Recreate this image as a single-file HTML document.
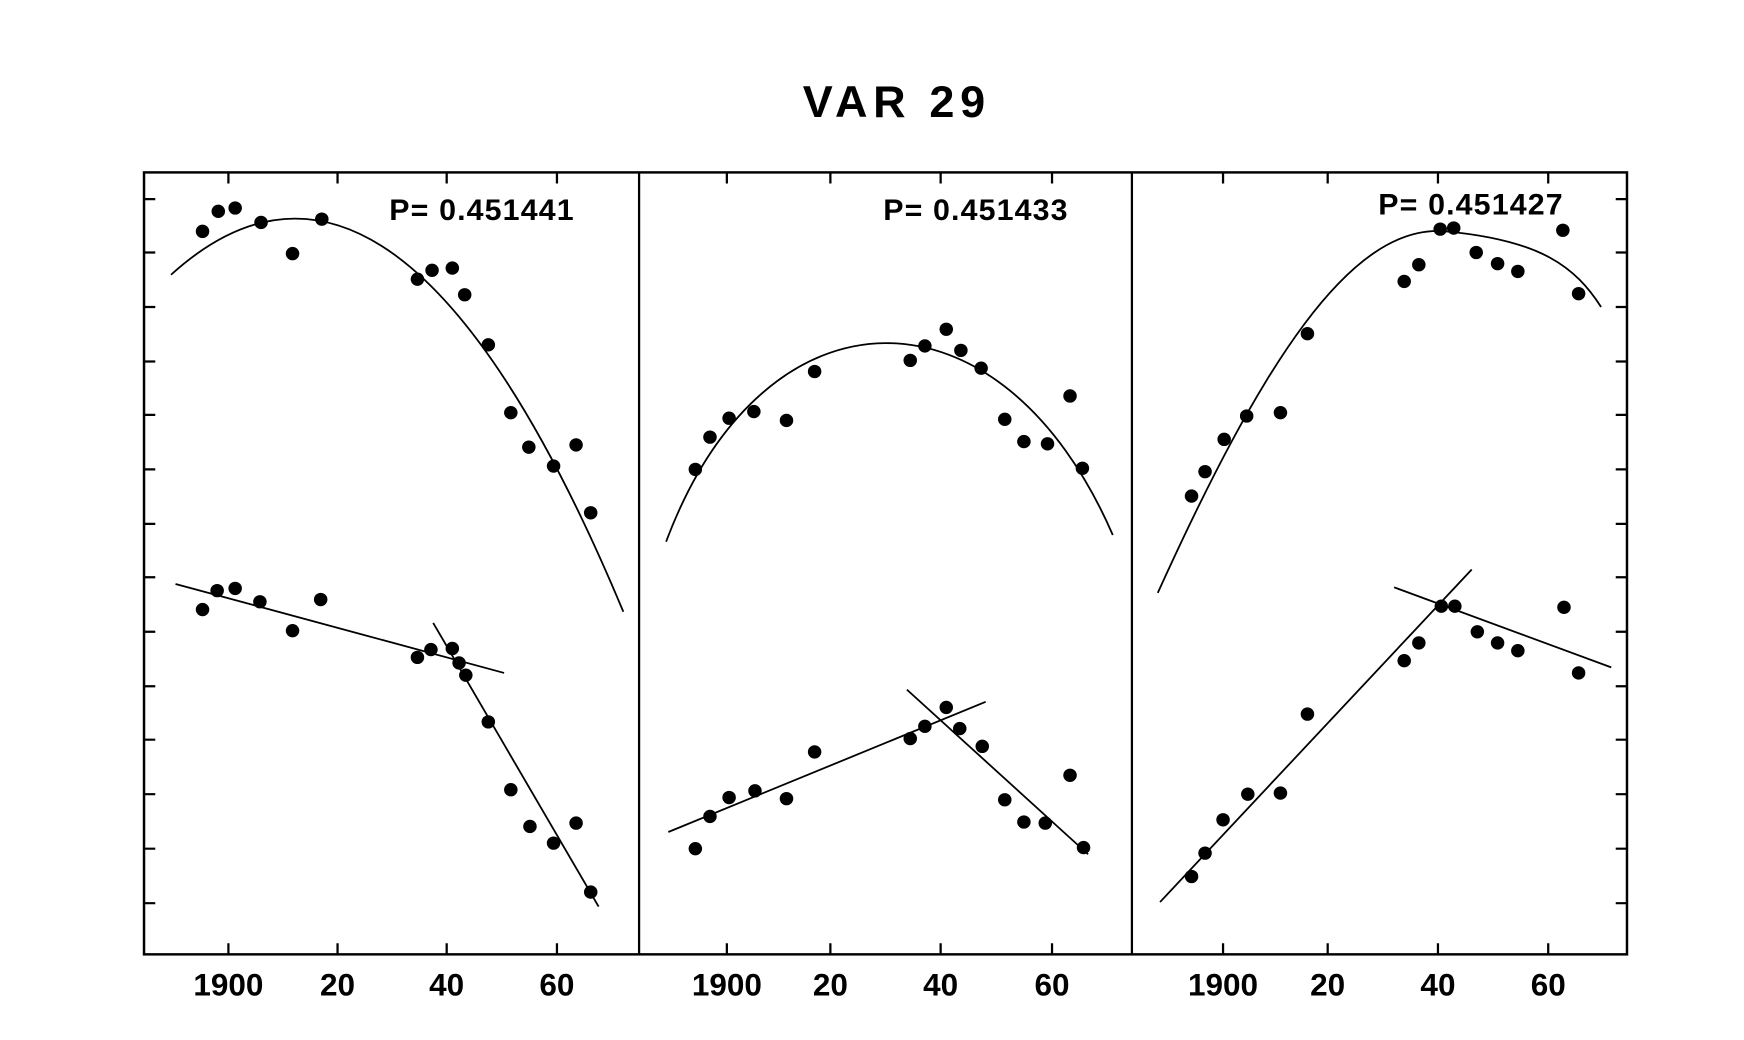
<!DOCTYPE html>
<html><head><meta charset="utf-8"><style>
html,body{margin:0;padding:0;background:#fff;}
svg{display:block;}
text{font-family:"Liberation Sans",sans-serif;font-weight:bold;fill:#000;}
</style></head><body>
<svg width="1744" height="1040" viewBox="0 0 1550 935" preserveAspectRatio="none" xmlns="http://www.w3.org/2000/svg">
<rect width="1550" height="935" fill="#fff"/>
<text x="797" y="105" font-size="40" text-anchor="middle" letter-spacing="5">VAR 29</text>
<g stroke="#000" fill="none">
<rect x="128" y="155" width="1318" height="703" stroke-width="2.2"/>
<line x1="568" y1="155" x2="568" y2="858" stroke-width="2"/>
<line x1="1006" y1="155" x2="1006" y2="858" stroke-width="2"/>
<g stroke-width="2">
<path d="M203,155v10M300,155v10M397,155v10M495,155v10M646,155v10M738,155v10M836,155v10M935,155v10M1087,155v10M1180,155v10M1278,155v10M1376,155v10"/>
<path d="M203,858v-10M300,858v-10M397,858v-10M495,858v-10M646,858v-10M738,858v-10M836,858v-10M935,858v-10M1087,858v-10M1180,858v-10M1278,858v-10M1376,858v-10"/>
<path d="M128,179h10M128,227h10M128,276h10M128,325h10M128,373h10M128,422h10M128,471h10M128,519h10M128,568h10M128,617h10M128,665h10M128,714h10M128,763h10M128,812h10"/>
<path d="M1446,179h-10M1446,227h-10M1446,276h-10M1446,325h-10M1446,373h-10M1446,422h-10M1446,471h-10M1446,519h-10M1446,568h-10M1446,617h-10M1446,665h-10M1446,714h-10M1446,763h-10M1446,812h-10"/>
</g>
<g stroke-width="1.6">
<path d="M152,247 Q353,63 554,550"/>
<line x1="156" y1="525" x2="448" y2="605"/>
<line x1="385" y1="560" x2="532" y2="815"/>
<path d="M592,487 C680,250 890,250 989,481"/>
<line x1="594" y1="748" x2="876" y2="631"/>
<line x1="806" y1="620" x2="967" y2="768"/>
<path d="M1029,533 C1120,330 1200,200 1285,208 S1400,240 1423,276"/>
<line x1="1031" y1="811" x2="1308" y2="512"/>
<line x1="1239" y1="528" x2="1432" y2="600"/>
</g>
</g>
<g fill="#000">
<circle cx="180" cy="208" r="6"/><circle cx="194" cy="190" r="6"/><circle cx="209" cy="187" r="6"/><circle cx="232" cy="200" r="6"/><circle cx="260" cy="228" r="6"/><circle cx="286" cy="197" r="6"/><circle cx="371" cy="251" r="6"/><circle cx="384" cy="243" r="6"/><circle cx="402" cy="241" r="6"/><circle cx="413" cy="265" r="6"/><circle cx="434" cy="310" r="6"/><circle cx="454" cy="371" r="6"/><circle cx="470" cy="402" r="6"/><circle cx="492" cy="419" r="6"/><circle cx="512" cy="400" r="6"/><circle cx="525" cy="461" r="6"/>
<circle cx="180" cy="548" r="6"/><circle cx="193" cy="531" r="6"/><circle cx="209" cy="529" r="6"/><circle cx="231" cy="541" r="6"/><circle cx="260" cy="567" r="6"/><circle cx="285" cy="539" r="6"/><circle cx="371" cy="591" r="6"/><circle cx="383" cy="584" r="6"/><circle cx="402" cy="583" r="6"/><circle cx="408" cy="596" r="6"/><circle cx="414" cy="607" r="6"/><circle cx="434" cy="649" r="6"/><circle cx="454" cy="710" r="6"/><circle cx="471" cy="743" r="6"/><circle cx="492" cy="758" r="6"/><circle cx="512" cy="740" r="6"/><circle cx="525" cy="802" r="6"/>
<circle cx="618" cy="422" r="6"/><circle cx="631" cy="393" r="6"/><circle cx="648" cy="376" r="6"/><circle cx="670" cy="370" r="6"/><circle cx="699" cy="378" r="6"/><circle cx="724" cy="334" r="6"/><circle cx="809" cy="324" r="6"/><circle cx="822" cy="311" r="6"/><circle cx="841" cy="296" r="6"/><circle cx="854" cy="315" r="6"/><circle cx="872" cy="331" r="6"/><circle cx="893" cy="377" r="6"/><circle cx="910" cy="397" r="6"/><circle cx="931" cy="399" r="6"/><circle cx="951" cy="356" r="6"/><circle cx="962" cy="421" r="6"/>
<circle cx="618" cy="763" r="6"/><circle cx="631" cy="734" r="6"/><circle cx="648" cy="717" r="6"/><circle cx="671" cy="711" r="6"/><circle cx="699" cy="718" r="6"/><circle cx="724" cy="676" r="6"/><circle cx="809" cy="664" r="6"/><circle cx="822" cy="653" r="6"/><circle cx="841" cy="636" r="6"/><circle cx="853" cy="655" r="6"/><circle cx="873" cy="671" r="6"/><circle cx="893" cy="719" r="6"/><circle cx="910" cy="739" r="6"/><circle cx="929" cy="740" r="6"/><circle cx="951" cy="697" r="6"/><circle cx="963" cy="762" r="6"/>
<circle cx="1059" cy="446" r="6"/><circle cx="1071" cy="424" r="6"/><circle cx="1088" cy="395" r="6"/><circle cx="1108" cy="374" r="6"/><circle cx="1138" cy="371" r="6"/><circle cx="1162" cy="300" r="6"/><circle cx="1248" cy="253" r="6"/><circle cx="1261" cy="238" r="6"/><circle cx="1280" cy="206" r="6"/><circle cx="1292" cy="205" r="6"/><circle cx="1312" cy="227" r="6"/><circle cx="1331" cy="237" r="6"/><circle cx="1349" cy="244" r="6"/><circle cx="1389" cy="207" r="6"/><circle cx="1403" cy="264" r="6"/>
<circle cx="1059" cy="788" r="6"/><circle cx="1071" cy="767" r="6"/><circle cx="1087" cy="737" r="6"/><circle cx="1109" cy="714" r="6"/><circle cx="1138" cy="713" r="6"/><circle cx="1162" cy="642" r="6"/><circle cx="1248" cy="594" r="6"/><circle cx="1261" cy="578" r="6"/><circle cx="1281" cy="545" r="6"/><circle cx="1293" cy="545" r="6"/><circle cx="1313" cy="568" r="6"/><circle cx="1331" cy="578" r="6"/><circle cx="1349" cy="585" r="6"/><circle cx="1390" cy="546" r="6"/><circle cx="1403" cy="605" r="6"/>
</g>
<g font-size="27" letter-spacing="1">
<text x="346" y="198">P= 0.451441</text>
<text x="785" y="198">P= 0.451433</text>
<text x="1225" y="193">P= 0.451427</text>
</g>
<g font-size="28" text-anchor="middle">
<text x="203" y="895">1900</text><text x="300" y="895">20</text><text x="397" y="895">40</text><text x="495" y="895">60</text>
<text x="646" y="895">1900</text><text x="738" y="895">20</text><text x="836" y="895">40</text><text x="935" y="895">60</text>
<text x="1087" y="895">1900</text><text x="1180" y="895">20</text><text x="1278" y="895">40</text><text x="1376" y="895">60</text>
</g>
</svg>
</body></html>
